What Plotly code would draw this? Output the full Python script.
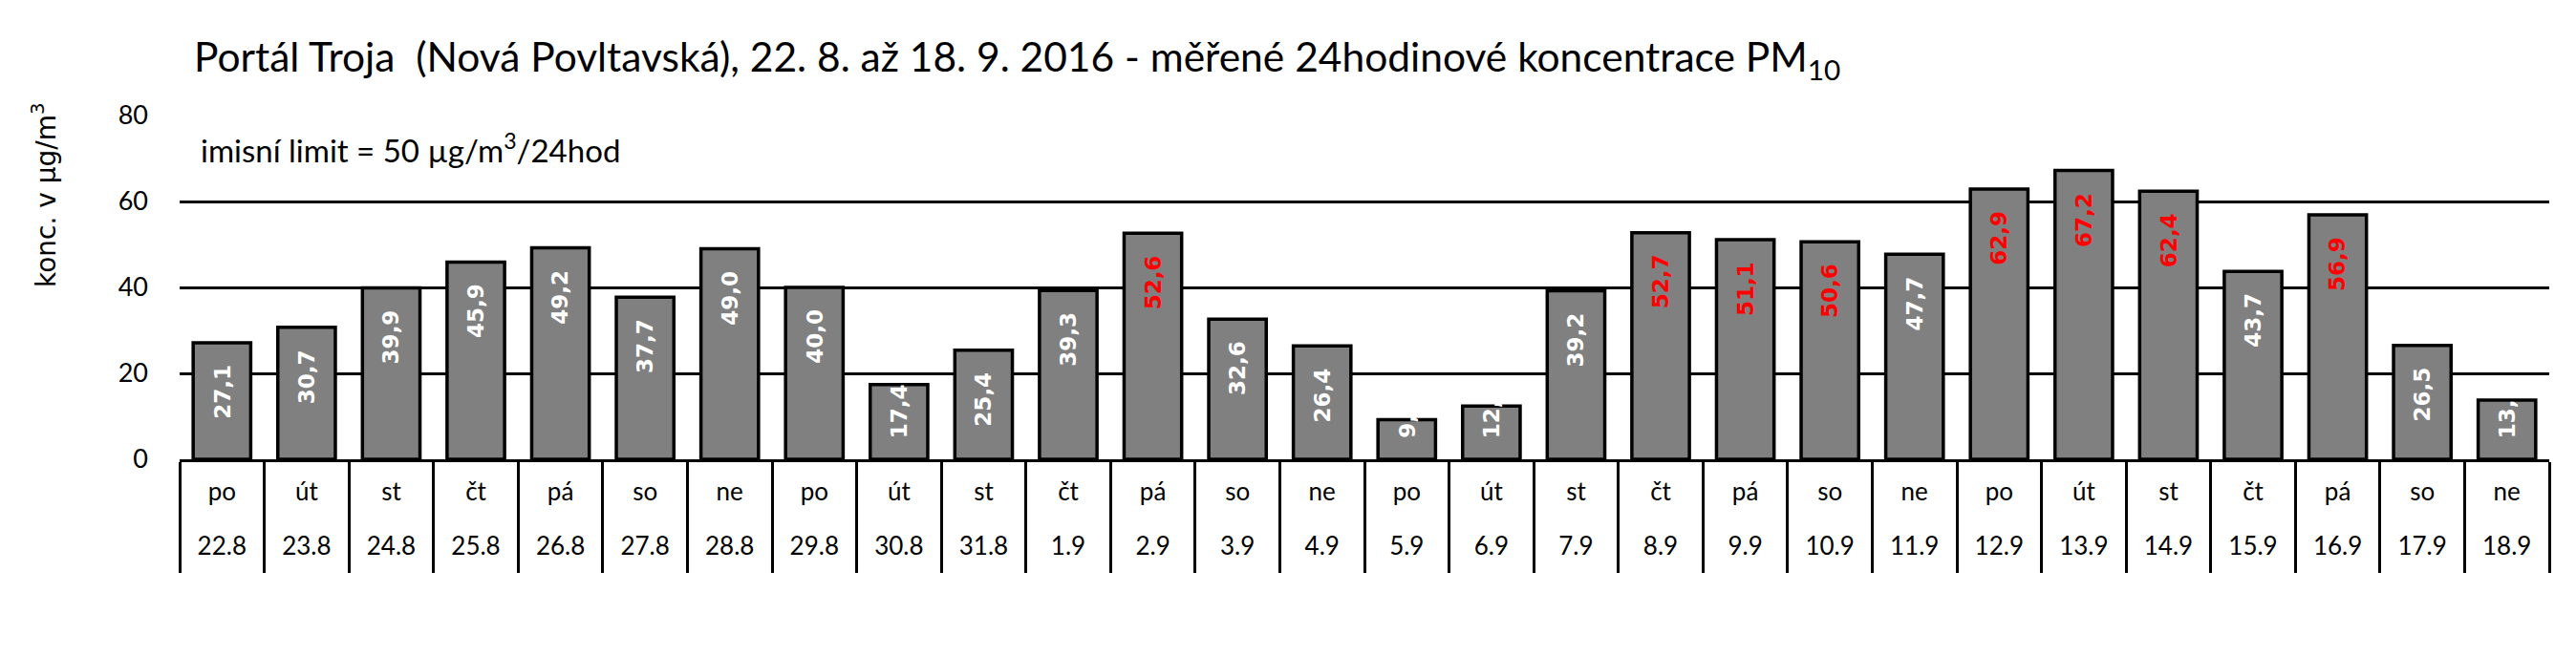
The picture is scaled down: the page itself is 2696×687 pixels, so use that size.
import math
import plotly.graph_objects as go

# ---------------- data ----------------
days = ["po", "út", "st", "čt", "pá", "so", "ne"] * 4
dates = ["22.8", "23.8", "24.8", "25.8", "26.8", "27.8", "28.8", "29.8", "30.8", "31.8",
         "1.9", "2.9", "3.9", "4.9", "5.9", "6.9", "7.9", "8.9", "9.9", "10.9",
         "11.9", "12.9", "13.9", "14.9", "15.9", "16.9", "17.9", "18.9"]
pm10 = [27.1, 30.7, 39.9, 45.9, 49.2, 37.7, 49.0, 40.0, 17.4, 25.4,
        39.3, 52.6, 32.6, 26.4, 9.2, 12.4, 39.2, 52.7, 51.1, 50.6,
        47.7, 62.9, 67.2, 62.4, 43.7, 56.9, 26.5, 13.8]
limit_value = 50
y_ticks = [0, 20, 40, 60, 80]

title_text = ("Portál Troja  (Nová Povltavská), 22. 8. až 18. 9. 2016 - "
              "měřené 24hodinové koncentrace PM<sub>10</sub>")
y_title = "konc. v µg/m<sup>3</sup>"
limit_text = "imisní limit = 50 µg/m<sup>3</sup>/24hod"

# ---------------- layout constants ----------------
W, H = 2696, 687
ML, MR, MT, MB = 180, 36, 113, 214
plot_w = W - ML - MR
plot_h = H - MT - MB
ppu = plot_h / (y_ticks[-1] - y_ticks[0])   # pixels per unit

n = len(dates)
pos = list(range(n))

fig = go.Figure()
fig.add_trace(go.Bar(
    x=dates, y=pm10,
    marker=dict(color="#808080", line=dict(color="black", width=3.5)),
    hoverinfo="x+y", showlegend=False,
))
# helper invisible traces for the overlay label axes
fig.add_trace(go.Scatter(x=pos, y=[None] * n, xaxis="x2", mode="markers",
                         hoverinfo="skip", showlegend=False))
fig.add_trace(go.Scatter(x=pos, y=[None] * n, xaxis="x3", mode="markers",
                         hoverinfo="skip", showlegend=False))

# value labels (rotated, inside end of bars)
LABEL_FONT = dict(family="DejaVu Sans", size=23)
char_px = 13.0
top_gap = 21
bottom_gap = 20
label_len = 52
annotations = []
for i, v in enumerate(pm10):
    txt = f"{v:.1f}".replace(".", ",")
    color = "#FF0000" if v > limit_value else "white"
    bar_px = v * ppu
    if bar_px >= top_gap + label_len + bottom_gap:
        annotations.append(dict(
            x=i, y=v, xref="x", yref="y", text=f"<b>{txt}</b>", showarrow=False,
            textangle=-90, xanchor="center", yanchor="top", yshift=-top_gap,
            font=dict(color=color, **LABEL_FONT)))
    else:
        avail = bar_px - bottom_gap
        nch = min(len(txt), int(math.ceil(avail / char_px)))
        annotations.append(dict(
            x=i, y=0, xref="x", yref="y", text=f"<b>{txt[:nch]}</b>", showarrow=False,
            textangle=-90, xanchor="center", yanchor="bottom", yshift=bottom_gap,
            font=dict(color=color, **LABEL_FONT)))

annotations.append(dict(
    x=0, y=72.5, xref="paper", yref="y", xshift=20, text=limit_text, showarrow=False,
    xanchor="left", yanchor="middle", font=dict(family="Lato", size=33, color="black")))
annotations.append(dict(
    x=(38 - ML) / plot_w, y=(H - MB - 196) / plot_h, xref="paper", yref="paper",
    text=y_title, showarrow=False,
    textangle=-90, xanchor="center", yanchor="middle",
    font=dict(family="DejaVu Sans", size=28, color="black")))

fig.update_layout(
    width=W, height=H,
    margin=dict(l=ML, r=MR, t=MT, b=MB),
    paper_bgcolor="white", plot_bgcolor="white",
    bargap=0.32,
    title=dict(text=title_text, x=195 / W, xanchor="left", xref="container",
               y=1 - 52 / H, yanchor="middle", yref="container",
               font=dict(family="Lato", size=42.5, color="black")),
    font=dict(family="Lato", color="black"),
    annotations=annotations,
    xaxis=dict(type="category", range=[-0.5, n - 0.5], showgrid=False,
               showline=True, linecolor="black", linewidth=3,
               ticks="outside", tickson="boundaries", ticklen=116, tickwidth=3,
               tickcolor="black", showticklabels=False, fixedrange=True),
    xaxis2=dict(overlaying="x", anchor="y", side="bottom", range=[-0.5, n - 0.5],
                tickmode="array", tickvals=pos, ticktext=days, ticks="",
                showgrid=False, showline=False, zeroline=False,
                ticklabelstandoff=16, tickfont=dict(family="Lato", size=26, color="black")),
    xaxis3=dict(overlaying="x", anchor="y", side="bottom", range=[-0.5, n - 0.5],
                tickmode="array", tickvals=pos, ticktext=dates, ticks="",
                showgrid=False, showline=False, zeroline=False,
                ticklabelstandoff=73, tickfont=dict(family="Lato", size=26, color="black")),
    yaxis=dict(range=[y_ticks[0], y_ticks[-1]], tickmode="array", tickvals=y_ticks,
               showgrid=True, gridcolor="black", gridwidth=3, zeroline=False,
               showline=False, ticks="", ticklabelstandoff=32,
               tickfont=dict(family="Lato", size=27, color="black"), fixedrange=True),
)

fig.write_html("out.html")
